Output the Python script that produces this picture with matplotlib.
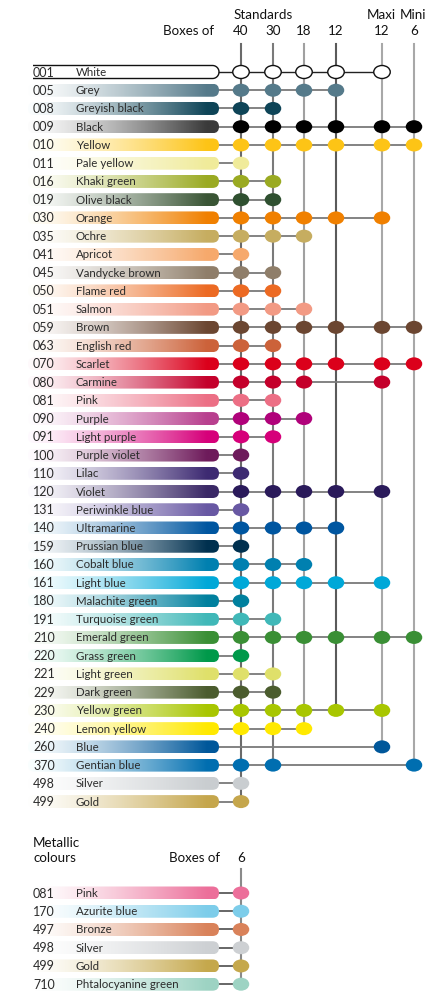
import numpy as np
import matplotlib
matplotlib.use("Agg")
import matplotlib.pyplot as plt
from matplotlib.patches import Ellipse, FancyBboxPatch
from matplotlib.colors import to_rgb

plt.rcParams['font.family'] = ['Lato', 'DejaVu Sans']

# ---------------- data ----------------
codes = ["001", "005", "008", "009", "010", "011", "016", "019", "030", "035",
         "041", "045", "050", "051", "059", "063", "070", "080", "081", "090",
         "091", "100", "110", "120", "131", "140", "159", "160", "161", "180",
         "191", "210", "220", "221", "229", "230", "240", "260", "370", "498", "499"]
names = ["White", "Grey", "Greyish black", "Black", "Yellow", "Pale yellow",
         "Khaki green", "Olive black", "Orange", "Ochre", "Apricot",
         "Vandycke brown", "Flame red", "Salmon", "Brown", "English red",
         "Scarlet", "Carmine", "Pink", "Purple", "Light purple", "Purple violet",
         "Lilac", "Violet", "Periwinkle blue", "Ultramarine", "Prussian blue",
         "Cobalt blue", "Light blue", "Malachite green", "Turquoise green",
         "Emerald green", "Grass green", "Light green", "Dark green",
         "Yellow green", "Lemon yellow", "Blue", "Gentian blue", "Silver", "Gold"]
colors = ["#ffffff", "#557a8a", "#0e4457", "#000000", "#fdc416", "#f0eb9a",
          "#9aaa22", "#2f5030", "#f08000", "#c6ad60", "#f6a96c", "#8f7e6a",
          "#ec6a23", "#f29a84", "#6b4631", "#cc623a", "#db001b", "#c4002b",
          "#ec6f85", "#b0027a", "#d6007a", "#6e1b5b", "#3d2a72", "#2a1a5a",
          "#6858a3", "#0056a0", "#00304f", "#0080b0", "#00a8d8", "#00809e",
          "#40b8b8", "#3a8f35", "#00994a", "#dfe06a", "#4b5c2e", "#a8c600",
          "#ffe900", "#00579a", "#006eb0", "#c9cdd0", "#c5a64c"]
# swatch end colours where they differ from the dot colour
swatch_end = {"009": "#3a3a3a", "019": "#3a5535", "090": "#b8408e", "120": "#3a2866"}

box_labels = ["40", "30", "18", "12", "12", "6"]
group_labels = ["Standards", "Maxi", "Mini"]

box_std40 = [c for c in codes if c != "260"]
box_std30 = ["001", "005", "008", "009", "010", "016", "019", "030", "035", "045",
             "050", "051", "059", "063", "070", "080", "081", "090", "091", "120",
             "140", "160", "161", "191", "210", "221", "229", "230", "240", "370"]
box_std18 = ["001", "005", "009", "010", "030", "035", "051", "059", "070", "080",
             "090", "120", "140", "160", "161", "210", "230", "240"]
box_std12 = ["001", "005", "009", "010", "030", "059", "070", "120", "140", "161",
             "210", "230"]
box_maxi12 = ["001", "009", "010", "030", "059", "070", "080", "120", "161", "210",
              "230", "260"]
box_mini6 = ["009", "010", "059", "070", "210", "370"]
boxes = [box_std40, box_std30, box_std18, box_std12, box_maxi12, box_mini6]

met_codes = ["081", "170", "497", "498", "499", "710"]
met_names = ["Pink", "Azurite blue", "Bronze", "Silver", "Gold", "Phtalocyanine green"]
met_colors = ["#ec6f9a", "#7dcdea", "#d9825a", "#cdd0d3", "#c5a84c", "#9dd3c3"]
met_box_label = "6"

# ---------------- layout ----------------
W, H = 433, 998
ROW0, DY = 72.0, 18.24
COLX = [241, 273, 304, 336, 382, 414]
VCOL = ["#6a6a6a", "#7a7a7a", "#a0a0a0", "#5a5a5a", "#a8a8a8", "#a8a8a8"]
SW_X0, SW_X1, SW_H = 28, 219, 13.0
DOT_W, DOT_H = 16.5, 13.0
TXT = "#2b2b2b"
FS_CODE = 9.0
FS_NAME = 8.3
HFS = 9.6

fig = plt.figure(figsize=(W / 100, H / 100), dpi=100)
ax = fig.add_axes([0, 0, 1, 1])
ax.set_xlim(0, W)
ax.set_ylim(H, 0)
ax.axis("off")


def swatch(y, color, x0=SW_X0, x1=SW_X1):
    rgb = np.array(to_rgb(color))
    n = 256
    t = np.linspace(0, 1, n)
    t = np.clip(t / 0.94, 0, 1) ** 1.35
    start = np.clip(0.95 * np.ones(3) + 0.05 * rgb + 0.03, 0, 1)
    grad = start[None, :] * (1 - t[:, None]) + rgb[None, :] * t[:, None]
    img = grad[None, :, :]
    patch = FancyBboxPatch((x0, y - SW_H / 2), x1 - x0, SW_H,
                           boxstyle="round,pad=0,rounding_size=6.5",
                           transform=ax.transData, facecolor="none",
                           edgecolor="none")
    ax.add_patch(patch)
    im = ax.imshow(img, extent=[x0, x1, y + SW_H / 2, y - SW_H / 2],
                   aspect="auto", interpolation="bilinear", zorder=2)
    im.set_clip_path(patch)


def white_swatch(y, x0=33, x1=SW_X1):
    r = SW_H / 2
    xr = x1 - r
    ang = np.linspace(-np.pi / 2, np.pi / 2, 40)
    xs = np.concatenate([[x0, xr], xr + r * np.cos(ang), [xr, x0]])
    ys = np.concatenate([[y - r, y - r], y + r * np.sin(ang), [y + r, y + r]])
    ax.plot(xs, ys, color="#111111", lw=1.0, zorder=2.5, solid_capstyle="butt")


row_y = {c: ROW0 + i * DY for i, c in enumerate(codes)}

# vertical lines
for j, box in enumerate(boxes):
    ylast = max(row_y[c] for c in box)
    ax.plot([COLX[j], COLX[j]], [44, ylast], color=VCOL[j], lw=1.5, zorder=1)

# rows
for i, (c, nm, col) in enumerate(zip(codes, names, colors)):
    y = row_y[c]
    if c == "001":
        white_swatch(y)
    else:
        swatch(y, swatch_end.get(c, col))
    ax.text(33, y + 0.5, c, fontsize=FS_CODE, color=TXT, va="center", ha="left", zorder=4)
    ax.text(76, y + 0.5, nm, fontsize=FS_NAME, color=TXT, va="center", ha="left", zorder=4)
    member = [j for j, box in enumerate(boxes) if c in box]
    xlast = COLX[max(member)]
    hcol = "#222222" if c == "001" else "#7a7a7a"
    ax.plot([SW_X1, xlast], [y, y], color=hcol, lw=1.3 if c != "001" else 1.0, zorder=1.5)
    for j in member:
        if c == "001":
            e = Ellipse((COLX[j], y), DOT_W, DOT_H, facecolor="white",
                        edgecolor="#111111", lw=1.0, zorder=3)
        else:
            e = Ellipse((COLX[j], y), DOT_W, DOT_H, facecolor=col,
                        edgecolor="none", zorder=3)
        ax.add_patch(e)

# header
ax.text(214, 35, "Boxes of", fontsize=HFS, color="#111111", ha="right", va="baseline")
for j, lab in enumerate(box_labels):
    ax.text(COLX[j], 35, lab, fontsize=HFS, color="#111111", ha="center", va="baseline")
ax.text(263, 19, group_labels[0], fontsize=HFS, color="#111111", ha="center", va="baseline")
ax.text(COLX[4] - 1, 19, group_labels[1], fontsize=HFS, color="#111111", ha="center", va="baseline")
ax.text(COLX[5] - 1, 19, group_labels[2], fontsize=HFS, color="#111111", ha="center", va="baseline")

# metallic section
MROW0 = 893.0
ax.text(33, 847, "Metallic", fontsize=HFS, color="#111111", ha="left", va="baseline")
ax.text(33, 862, "colours", fontsize=HFS, color="#111111", ha="left", va="baseline")
ax.text(220, 862, "Boxes of", fontsize=HFS, color="#111111", ha="right", va="baseline")
ax.text(COLX[0], 862, met_box_label, fontsize=HFS, color="#111111", ha="center", va="baseline")
met_y = [MROW0 + i * DY for i in range(len(met_codes))]
ax.plot([COLX[0], COLX[0]], [869, met_y[-1]], color="#8a8a8a", lw=1.5, zorder=1)
for c, nm, col, y in zip(met_codes, met_names, met_colors, met_y):
    swatch(y, col, x0=32)
    ax.text(33, y + 0.5, c, fontsize=FS_CODE, color=TXT, va="center", ha="left", zorder=4)
    ax.text(76, y + 0.5, nm, fontsize=FS_NAME, color=TXT, va="center", ha="left", zorder=4)
    ax.plot([SW_X1, COLX[0]], [y, y], color="#5a5a5a", lw=1.3, zorder=1.5)
    ax.add_patch(Ellipse((COLX[0], y), DOT_W, DOT_H, facecolor=col, edgecolor="none", zorder=3))

fig.savefig("out.png", dpi=100)
